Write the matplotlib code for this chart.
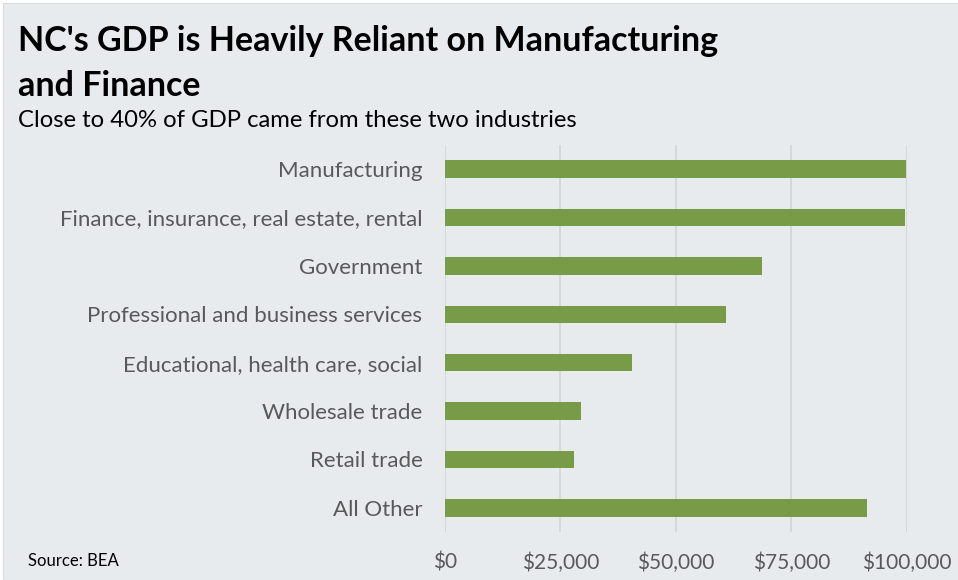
import matplotlib
matplotlib.use("Agg")
import matplotlib.pyplot as plt
from matplotlib.patches import Rectangle
from matplotlib.ticker import FuncFormatter

plt.rcParams['font.family'] = ['Lato', 'DejaVu Sans']

# NC GDP by industry (millions of $)
industries = [
    "Manufacturing",
    "Finance, insurance, real estate, rental",
    "Government",
    "Professional and business services",
    "Educational, health care, social",
    "Wholesale trade",
    "Retail trade",
    "All Other",
]
gdp = [99700, 99550, 68700, 60800, 40500, 29400, 27900, 91300]
x_ticks = [0, 25000, 50000, 75000, 100000]

bg = "#E8EBEE"
bar_color = "#789B48"
text_gray = "#595959"

W, H = 958, 580
fig = plt.figure(figsize=(W / 100, H / 100), dpi=100)
fig.patch.set_facecolor("white")
# chart area with a thin white edge at top and left
fig.patches.append(Rectangle((3 / W, 0), 1, 1 - 3 / H, transform=fig.transFigure,
                             facecolor=bg, edgecolor="#D9DCDF", linewidth=0.8, zorder=-10))

# axes placed in pixel terms: x 444.7..907, y 145..532
ax = fig.add_axes([444.7 / W, 1 - 532 / H, (907 - 444.7) / W, (532 - 145) / H])
ax.patch.set_alpha(0)

pos = list(range(len(industries)))
ax.barh(pos, gdp, height=0.36, color=bar_color, zorder=3)
ax.set_ylim(len(industries) - 0.5, -0.5)
ax.set_xlim(0, 100000)
ax.set_yticks(pos)
ax.set_yticklabels(industries)
ax.set_xticks(x_ticks)
ax.xaxis.set_major_formatter(FuncFormatter(lambda v, p: f"${v:,.0f}"))

ax.grid(axis='x', color="#D4D6D8", linewidth=1.3, zorder=0)
for s in ax.spines.values():
    s.set_visible(False)
ax.tick_params(axis='y', length=0, colors=text_gray, labelsize=16, pad=16)
ax.tick_params(axis='x', length=0, colors=text_gray, labelsize=15, pad=15)

fig.text(18 / W, 1 - 51 / H, "NC's GDP is Heavily Reliant on Manufacturing",
         fontsize=24.5, fontweight='bold', color="black", va='baseline')
fig.text(18 / W, 1 - 96 / H, "and Finance",
         fontsize=24.5, fontweight='bold', color="black", va='baseline')
fig.text(18 / W, 1 - 127 / H, "Close to 40% of GDP came from these two industries",
         fontsize=17.2, color="black", va='baseline')
fig.text(28 / W, 1 - 566 / H, "Source: BEA", fontsize=12, color="black", va='baseline')

fig.savefig("out.png", dpi=100, facecolor="white")
